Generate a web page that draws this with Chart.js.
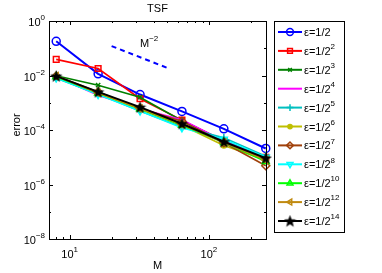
<!DOCTYPE html>
<html>
<head>
<meta charset="utf-8">
<script src="https://cdn.jsdelivr.net/npm/chart.js@4/dist/chart.umd.min.js"></script>
<style>
  html, body { margin: 0; padding: 0; background: #fff; }
  #wrap { width: 382px; height: 273px; position: relative; }
</style>
</head>
<body>
<div id="wrap"><canvas id="grafico" width="382" height="273"></canvas></div>
<script>
// ------------------------
// Dados
// ------------------------

const valoresM = [8, 16, 32, 64, 128, 256];

const erroE1  = [0.18, 0.0115, 0.0020, 4.8e-4, 1.1e-4, 2.1e-5];
const erroE2  = [0.039, 0.018, 0.0014, 2.3e-4, 4.0e-5, 1.0e-5];
const erroE3  = [0.0098, 0.0044, 0.0016, 2.2e-4, 4.0e-5, 8.0e-6];
const erroE4  = [0.0090, 0.0019, 6.0e-4, 2.4e-4, 4.0e-5, 9.0e-6];
const erroE5  = [0.0080, 0.0021, 5.0e-4, 1.3e-4, 5.2e-5, 1.1e-5];
const erroE6  = [0.0092, 0.0022, 5.6e-4, 1.5e-4, 2.7e-5, 8.0e-6];
const erroE7  = [0.0095, 0.0025, 6.2e-4, 2.1e-4, 3.4e-5, 4.9e-6];
const erroE8  = [0.0082, 0.0020, 5.0e-4, 1.2e-4, 4.6e-5, 1.0e-5];
const erroE10 = [0.0090, 0.0023, 6.0e-4, 1.5e-4, 3.5e-5, 7.0e-6];
const erroE12 = [0.0095, 0.0023, 6.2e-4, 1.6e-4, 3.5e-5, 8.0e-6];
const erroE14 = [0.0095, 0.0025, 6.9e-4, 1.7e-4, 3.7e-5, 9.3e-6];

const expoentes = ['', '2', '3', '4', '5', '6', '7', '8', '10', '12', '14'];

// reta de referência M^-2
const refM = [20, 50];
const refErro = [0.12, 0.0192];

const ticksY = [0, -2, -4, -6, -8];
const ticksX = [1, 2];

// ------------------------
// Marcador estrela (pentagrama)
// ------------------------

function criarEstrela(tam) {
  const c = document.createElement('canvas');
  c.width = tam; c.height = tam;
  const g = c.getContext('2d');
  const cx = tam / 2, cy = tam / 2 + 0.5;
  const rExt = tam / 2, rInt = rExt * 0.42;
  g.beginPath();
  for (let i = 0; i < 10; i++) {
    const r = i % 2 === 0 ? rExt : rInt;
    const a = -Math.PI / 2 + i * Math.PI / 5;
    g.lineTo(cx + r * Math.cos(a), cy + r * Math.sin(a));
  }
  g.closePath();
  g.fillStyle = '#000';
  g.fill();
  return c;
}
const estrela = criarEstrela(13);

// ------------------------
// Séries
// ------------------------

const series = [
  { dados: erroE1,  cor: '#0000ff', estilo: 'circle',   raio: 4,   rot: 0,   preenche: false },
  { dados: erroE2,  cor: '#ff0000', estilo: 'rect',     raio: 4,   rot: 0,   preenche: false },
  { dados: erroE3,  cor: '#008000', estilo: 'crossRot', raio: 3,   rot: 0,   preenche: false },
  { dados: erroE4,  cor: '#ff00ff', estilo: 'circle',   raio: 0,   rot: 0,   preenche: false },
  { dados: erroE5,  cor: '#00bfbf', estilo: 'cross',    raio: 4,   rot: 0,   preenche: false },
  { dados: erroE6,  cor: '#bfbf00', estilo: 'circle',   raio: 2.5, rot: 0,   preenche: true  },
  { dados: erroE7,  cor: '#a0400a', estilo: 'rectRot',  raio: 4,   rot: 0,   preenche: false },
  { dados: erroE8,  cor: '#00ffff', estilo: 'triangle', raio: 4,   rot: 180, preenche: false },
  { dados: erroE10, cor: '#00ff00', estilo: 'triangle', raio: 4,   rot: 0,   preenche: false },
  { dados: erroE12, cor: '#c08a10', estilo: 'triangle', raio: 4,   rot: 270, preenche: false },
  { dados: erroE14, cor: '#000000', estilo: estrela,    raio: 6,   rot: 0,   preenche: true  }
];

const datasets = series.map((s, i) => ({
  label: 'ε=1/2' + expoentes[i],
  data: valoresM.map((m, k) => ({ x: m, y: s.dados[k] })),
  borderColor: s.cor,
  backgroundColor: s.preenche ? s.cor : 'rgba(0,0,0,0)',
  borderWidth: i === 0 || i === 10 ? 2 : 1.6,
  pointStyle: s.estilo,
  pointRadius: s.raio,
  pointRotation: s.rot,
  pointBorderWidth: 1.5,
  pointBorderColor: s.cor,
  pointBackgroundColor: s.preenche ? s.cor : 'rgba(0,0,0,0)',
  order: series.length - i + 1,
  clip: false
}));

datasets.push({
  label: 'ref',
  data: refM.map((m, k) => ({ x: m, y: refErro[k] })),
  borderColor: '#0000ff',
  borderWidth: 2,
  borderDash: [5, 4],
  pointRadius: 0,
  order: 20
});

// ------------------------
// Eixos, ticks e legenda desenhados à mão (estilo MATLAB)
// ------------------------

const fonte = '"Liberation Sans", Arial, sans-serif';

function textoPotencia(ctx, base, exp, x, y, alinhar) {
  ctx.font = '11px ' + fonte;
  const wb = ctx.measureText(base).width;
  ctx.font = '8px ' + fonte;
  const we = ctx.measureText(exp).width;
  let x0 = x;
  if (alinhar === 'right') x0 = x - wb - we;
  if (alinhar === 'center') x0 = x - (wb + we) / 2;
  ctx.textAlign = 'left';
  ctx.textBaseline = 'middle';
  ctx.font = '11px ' + fonte;
  ctx.fillText(base, x0, y);
  ctx.font = '8px ' + fonte;
  ctx.fillText(exp, x0 + wb, y - 5);
}

const pluginEixos = {
  id: 'eixosMatlab',
  afterDraw(chart) {
    const ctx = chart.ctx;
    const a = chart.chartArea;
    const sx = chart.scales.x, sy = chart.scales.y;
    ctx.save();
    ctx.strokeStyle = '#000';
    ctx.fillStyle = '#000';
    ctx.lineWidth = 1;

    // caixa
    ctx.strokeRect(Math.round(a.left) + 0.5, Math.round(a.top) + 0.5,
      Math.round(a.right - a.left), Math.round(a.bottom - a.top));

    // ticks Y (todas as décadas)
    for (let e = 0; e >= -8; e--) {
      const y = Math.round(sy.getPixelForValue(Math.pow(10, e))) + 0.5;
      const len = e % 2 === 0 ? 4 : 2;
      ctx.beginPath();
      ctx.moveTo(a.left, y); ctx.lineTo(a.left + len, y);
      ctx.moveTo(a.right, y); ctx.lineTo(a.right - len, y);
      ctx.stroke();
    }
    // ticks X
    const minX = [8, 9, 20, 30, 40, 50, 60, 70, 80, 90, 200];
    minX.concat([10, 100]).forEach(v => {
      const x = Math.round(sx.getPixelForValue(v)) + 0.5;
      const len = (v === 10 || v === 100) ? 4 : 2;
      ctx.beginPath();
      ctx.moveTo(x, a.bottom); ctx.lineTo(x, a.bottom - len);
      ctx.moveTo(x, a.top); ctx.lineTo(x, a.top + len);
      ctx.stroke();
    });

    // rótulos Y
    ticksY.forEach(e => {
      const y = sy.getPixelForValue(Math.pow(10, e));
      const exp = e === 0 ? '0' : '\u2212' + (-e);
      textoPotencia(ctx, '10', exp, a.left - 4, y + 2, 'right');
    });
    // rótulos X
    ticksX.forEach(e => {
      const x = sx.getPixelForValue(Math.pow(10, e));
      textoPotencia(ctx, '10', String(e), x, a.bottom + 16, 'center');
    });

    // títulos
    ctx.font = '11px ' + fonte;
    ctx.textAlign = 'center';
    ctx.textBaseline = 'middle';
    ctx.fillText('TSF', (a.left + a.right) / 2, 9);
    ctx.fillText('M', (a.left + a.right) / 2, 266);
    ctx.save();
    ctx.translate(17, 125);
    ctx.rotate(-Math.PI / 2);
    ctx.fillText('error', 0, 0);
    ctx.restore();

    // rótulo da reta
    textoPotencia(ctx, 'M', '\u22122', 140, 44, 'left');

    // legenda
    const lx = 274.5, ly = 21.5, lw = 70, lh = 211;
    ctx.fillStyle = '#fff';
    ctx.fillRect(lx, ly, lw, lh);
    ctx.strokeStyle = '#000';
    ctx.strokeRect(lx, ly, lw, lh);
    series.forEach((s, i) => {
      const y = 32 + i * 18.9;
      ctx.strokeStyle = s.cor;
      ctx.lineWidth = 2;
      ctx.setLineDash([]);
      ctx.beginPath();
      ctx.moveTo(278, y); ctx.lineTo(302, y);
      ctx.stroke();
      if (s.raio > 0) {
        ctx.fillStyle = s.preenche ? s.cor : 'rgba(0,0,0,0)';
        ctx.lineWidth = 1.5;
        Chart.helpers.drawPoint(ctx, {
          pointStyle: s.estilo,
          rotation: s.rot,
          radius: s.raio * 0.85,
          borderWidth: 1.5
        }, 290, y);
      }
      ctx.fillStyle = '#000';
      textoPotencia(ctx, 'ε=1/2', expoentes[i], 304, y + 1, 'left');
    });
    ctx.restore();
  }
};

// ------------------------
// Gráfico
// ------------------------

const ctx = document.getElementById('grafico').getContext('2d');
const grafico = new Chart(ctx, {
  type: 'line',
  data: { datasets },
  options: {
    responsive: false,
    animation: false,
    layout: { padding: { left: 49, top: 21, right: 116, bottom: 34 } },
    plugins: { legend: { display: false }, tooltip: { enabled: false } },
    scales: {
      x: { type: 'logarithmic', min: 7.1, max: 257, display: false },
      y: { type: 'logarithmic', min: 1e-8, max: 1, display: false }
    }
  },
  plugins: [pluginEixos]
});
</script>
</body>
</html>
